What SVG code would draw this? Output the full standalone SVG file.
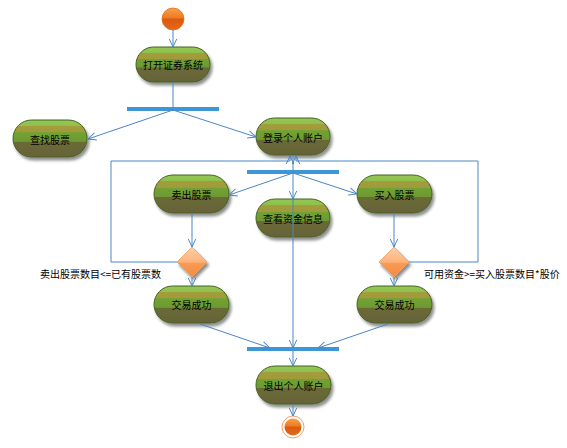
<svg xmlns="http://www.w3.org/2000/svg" width="567" height="448" viewBox="0 0 567 448">
<defs>
<linearGradient id="ng" x1="0" y1="0" x2="0" y2="1">
<stop offset="0" stop-color="#93c755"/>
<stop offset="0.16" stop-color="#8fc04c"/>
<stop offset="0.17" stop-color="#a39d3d"/>
<stop offset="0.33" stop-color="#a09a3a"/>
<stop offset="0.34" stop-color="#72a234"/>
<stop offset="0.58" stop-color="#6c9a30"/>
<stop offset="0.59" stop-color="#6b6a36"/>
<stop offset="1" stop-color="#66623a"/>
</linearGradient>
<linearGradient id="dg" x1="0" y1="0" x2="0" y2="1">
<stop offset="0" stop-color="#ffd0a8"/>
<stop offset="0.5" stop-color="#fdb27a"/>
<stop offset="0.55" stop-color="#f99a55"/>
<stop offset="1" stop-color="#f48a40"/>
</linearGradient>
<linearGradient id="cg" x1="0" y1="0" x2="0" y2="1">
<stop offset="0" stop-color="#f7a050"/>
<stop offset="0.45" stop-color="#f07a20"/>
<stop offset="0.5" stop-color="#d85a10"/>
<stop offset="1" stop-color="#e86818"/>
</linearGradient>
<filter id="sh" x="-20%" y="-20%" width="150%" height="160%">
<feGaussianBlur in="SourceAlpha" stdDeviation="1.5"/>
<feOffset dx="1.5" dy="2.5" result="b"/>
<feComponentTransfer><feFuncA type="linear" slope="0.45"/></feComponentTransfer>
<feMerge><feMergeNode/><feMergeNode in="SourceGraphic"/></feMerge>
</filter>
<marker id="arr" viewBox="0 0 10 10" refX="9.5" refY="5" markerWidth="9" markerHeight="9" markerUnits="userSpaceOnUse" orient="auto">
<path d="M0.5,0.8 L9.5,5 L0.5,9.2" fill="none" stroke="#4a86c5" stroke-width="1.1"/>
</marker>
</defs>
<style>
.node rect{fill:url(#ng);stroke:#44621f;stroke-width:1;filter:url(#sh)}
.node text,.lbl{font-family:"Noto Sans CJK SC","Noto Sans",sans-serif;font-size:10px;fill:#000;text-anchor:middle;dominant-baseline:central}
.lbl{text-anchor:start}
.dia polygon{fill:url(#dg);stroke:#f0a060;stroke-width:0.8;filter:url(#sh)}
.bar{fill:#3d97d6}
.conn line,.conn polyline{stroke:#4a86c5;stroke-width:1;fill:none}
.a{marker-end:url(#arr)}
</style>
<rect width="567" height="448" fill="#fff"/>

<g id="start"><circle cx="173" cy="19" r="11" fill="url(#cg)" stroke="#e07020" stroke-width="0.8"/></g>

<g id="bars">
<rect id="fork1" class="bar" x="127" y="107" width="92" height="4"/>
<rect id="fork2" class="bar" x="247" y="170" width="92" height="4"/>
<rect id="join" class="bar" x="247" y="347" width="92" height="4"/>
</g>

<g id="n_open" class="node"><rect x="136" y="47" width="74" height="35" rx="17.5"/><text x="173" y="64">打开证券系统</text></g>
<g id="n_find" class="node"><rect x="13" y="120" width="74" height="37" rx="18.5"/><text x="50" y="139">查找股票</text></g>
<g id="n_login" class="node"><rect x="256" y="118" width="74" height="37" rx="18.5"/><text x="293" y="137">登录个人账户</text></g>
<g id="n_sell" class="node"><rect x="154" y="175" width="75" height="38" rx="19"/><text x="191.5" y="194">卖出股票</text></g>
<g id="n_view" class="node"><rect x="256" y="199" width="74" height="38" rx="19"/><text x="293" y="218">查看资金信息</text></g>
<g id="n_buy" class="node"><rect x="357" y="175" width="75" height="38" rx="19"/><text x="394.5" y="194">买入股票</text></g>
<g id="n_ok1" class="node"><rect x="154" y="286" width="75" height="37" rx="18.5"/><text x="191.5" y="304">交易成功</text></g>
<g id="n_ok2" class="node"><rect x="357" y="286" width="75" height="37" rx="18.5"/><text x="394.5" y="304">交易成功</text></g>
<g id="n_exit" class="node"><rect x="256" y="366" width="75" height="38" rx="19"/><text x="293.5" y="385">退出个人账户</text></g>

<g id="d_sell" class="dia"><polygon points="192,247 207,262 192,277 177,262"/></g>
<g id="d_buy" class="dia"><polygon points="394,247 409,262 394,277 379,262"/></g>

<g id="end"><circle cx="293" cy="427" r="11" fill="#fff" stroke="#f0a070" stroke-width="1"/><circle cx="293" cy="427" r="8.5" fill="url(#cg)"/></g>

<g id="connectors" class="conn">
<line class="a" x1="173" y1="30" x2="173" y2="47"/>
<line x1="173" y1="82" x2="173" y2="108"/>
<line class="a" x1="173" y1="110" x2="88" y2="139"/>
<line class="a" x1="173" y1="110" x2="256" y2="137"/>
<line x1="293" y1="155" x2="293" y2="172"/>
<line class="a" x1="293" y1="173" x2="229" y2="195"/>
<line class="a" x1="293" y1="173" x2="293" y2="199"/>
<line class="a" x1="293" y1="173" x2="357" y2="194"/>
<line class="a" x1="192" y1="213" x2="192" y2="247"/>
<line class="a" x1="394" y1="213" x2="394" y2="247"/>
<line class="a" x1="192" y1="277" x2="192" y2="286"/>
<line class="a" x1="394" y1="277" x2="394" y2="286"/>
<polyline class="a" points="177,262 111,262 111,161 290,161 290,156"/>
<polyline class="a" points="409,262 478,262 478,161 296,161 296,156"/>
<line class="a" x1="200" y1="324" x2="270" y2="348"/>
<line class="a" x1="388" y1="324" x2="318" y2="348"/>
<line class="a" x1="293" y1="199" x2="293" y2="348"/>
<line class="a" x1="293" y1="350" x2="293" y2="366"/>
<line class="a" x1="293" y1="404" x2="293" y2="416"/>
</g>

<g id="labels">
<text class="lbl" x="40" y="273">卖出股票数目&lt;=已有股票数</text>
<text class="lbl" x="424" y="273">可用资金&gt;=买入股票数目*股价</text>
</g>
</svg>
